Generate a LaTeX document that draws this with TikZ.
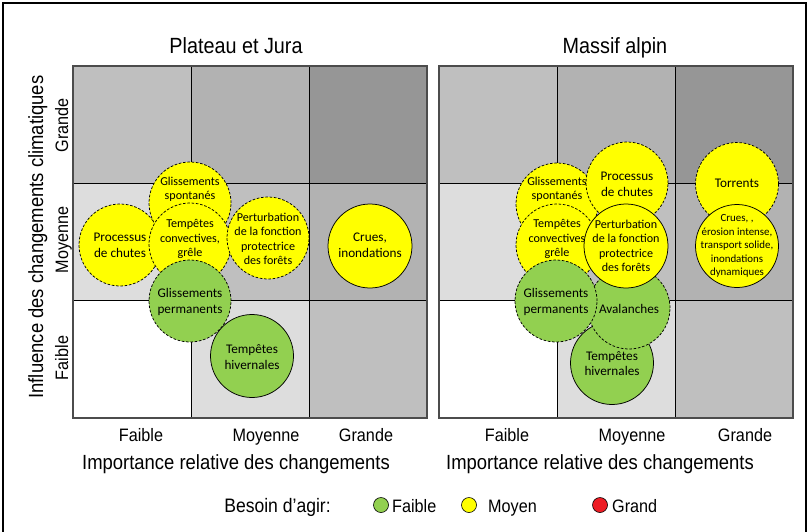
\documentclass[tikz,border=0pt]{standalone}
\usepackage{fontspec}
\setmainfont[FakeStretch=0.9]{Liberation Sans}
\newfontfamily\calib{Carlito}
\definecolor{bgrn}{HTML}{92D050}
\definecolor{byel}{HTML}{FFFF00}
\definecolor{bred}{HTML}{ED1C24}
\definecolor{g0}{HTML}{FFFFFF}
\definecolor{g1}{HTML}{DDDDDD}
\definecolor{g2}{HTML}{BFBFBF}
\definecolor{g3}{HTML}{B2B2B2}
\definecolor{g4}{HTML}{969696}
\begin{document}
\begin{tikzpicture}[x=1pt,y=-1pt,
  bub/.style={circle, draw=black, line width=0.75pt, minimum size=82pt, inner sep=0pt},
  dsh/.style={dash pattern=on 2.6pt off 1.7pt},
  yel/.style={fill=byel},
  grn/.style={fill=bgrn},
  txt/.style={align=center, inner sep=0pt, text=black, font=\calib\fontsize{13.2}{15.8}\selectfont},
  txs/.style={txt, font=\calib\fontsize{12.1}{14.5}\selectfont},
  txxs/.style={txt, font=\calib\fontsize{10.9}{13.5}\selectfont},
  ttl/.style={font=\fontsize{22}{26}\selectfont, anchor=base, inner sep=0pt},
  axl/.style={font=\fontsize{20.5}{24}\selectfont, anchor=base, inner sep=0pt},
  tick/.style={font=\fontsize{18}{22}\selectfont, anchor=base, inner sep=0pt},
  leg/.style={circle, draw=black, line width=0.6pt, minimum size=15pt, inner sep=0pt}
]
\useasboundingbox (0,0) rectangle (810,531);
\fill[white] (0,0) rectangle (810,531);
\draw[line width=1.6pt] (3,540) -- (3,3) -- (806,3) -- (806,540);

% grids
\foreach \X in {73,439}{
  \foreach \i in {0,1,2}{
    \foreach \j in {0,1,2}{
      \pgfmathtruncatemacro\k{\i+\j}
      \fill[g\k] (\X+118*\i, 418-117.33*\j) rectangle (\X+118*\i+118, 418-117.33*\j-117.33);
    }
  }
  \draw[black, line width=0.8pt] (\X+118,66) -- (\X+118,418) (\X+236,66) -- (\X+236,418)
     (\X,300.67) -- (\X+354,300.67) (\X,183.33) -- (\X+354,183.33);
  \draw[black!70, line width=1.3pt] (\X,66) rectangle (\X+354,418);
}

% titles
\node[ttl] (t1) at (236,53) {Plateau et Jura};
\node[ttl] (t2) at (615,53) {Massif alpin};

% y axis
\node[axl, rotate=90] (ylab) at (43,237) {Influence des changements climatiques};
\node[tick, rotate=90] (yf) at (68,358) {Faible};
\node[tick, rotate=90] (ym) at (68,240) {Moyenne};
\node[tick, rotate=90] (yg) at (68,125) {Grande};

% x axes
\node[tick] (lxf) at (141,441) {Faible};
\node[tick] (lxm) at (266,441) {Moyenne};
\node[tick] (lxg) at (366,441) {Grande};
\node[axl] (lxl) at (236,469) {Importance relative des changements};
\node[tick] (rxf) at (507,441) {Faible};
\node[tick] (rxm) at (632,441) {Moyenne};
\node[tick] (rxg) at (745,441) {Grande};
\node[axl] (rxl) at (600,469) {Importance relative des changements};

% left chart bubbles
\node[bub,dsh,yel] (lpc) at (120,245) {};
\node[txt] (lpct) at (120,245.5) {Processus\\de chutes};
\node[bub,dsh,yel] (lgs) at (190,203) {};
\node[txs] (lgst) at (190,189.5) {Glissements\\spontanés};
\node[bub,dsh,yel] (ltc) at (190,244) {};
\node[txs] (ltct) at (190,239) {Tempêtes\\convectives,\\grêle};
\node[bub,dsh,yel] (lpf) at (268,238) {};
\node[txs] (lpft) at (268,239) {Perturbation\\de la fonction\\protectrice\\des forêts};
\node[bub,yel,minimum size=84pt] (lcr) at (370,246) {};
\node[txt] (lcrt) at (370,245.5) {Crues,\\inondations};
\node[bub,dsh,grn] (lgp) at (190,301) {};
\node[txt] (lgpt) at (190,302) {Glissements\\permanents};
\node[bub,grn,minimum size=83pt] (lth) at (252,356) {};
\node[txt] (ltht) at (252,356.7) {Tempêtes\\hivernales};

% right chart bubbles
\node[bub,dsh,yel] (rgs) at (557,204) {};
\node[txs] (rgst) at (557,189.5) {Glissements\\spontanés};
\node[bub,dsh,yel] (rtc) at (557,245) {};
\node[txs] (rtct) at (557,239) {Tempêtes\\convectives\\grêle};
\node[bub,dsh,yel] (rpc) at (627,183) {};
\node[txt] (rpct) at (627,184) {Processus\\de chutes};
\node[bub,dsh,yel,minimum size=83pt] (rto) at (737,184) {};
\node[txt] (rtot) at (737,183) {Torrents};
\node[bub,grn,minimum size=83pt] (rth) at (612,363) {};
\node[txt] (rtht) at (612,363.5) {Tempêtes\\hivernales};
\node[bub,dsh,grn] (rav) at (629,308) {};
\node[txt] (ravt) at (629,309) {Avalanches};
\node[bub,dsh,grn] (rgp) at (556,301) {};
\node[txt] (rgpt) at (556,302) {Glissements\\permanents};
\node[bub,yel,minimum size=84pt] (rpf) at (626,246) {};
\node[txs] (rpft) at (626,245.7) {Perturbation\\de la fonction\\protectrice\\des forêts};
\node[bub,yel,minimum size=83pt] (rcr) at (737,246) {};
\node[txxs] (rcrt) at (737,246) {Crues, ,\\érosion intense,\\transport solide,\\inondations\\dynamiques};

% legend
\node[axl, font=\fontsize{19.5}{23}\selectfont] (lgt) at (277.5,512) {Besoin d’agir:};
\node[leg, fill=bgrn] (lg1) at (381,505) {};
\node[tick, anchor=base west] (lg1t) at (392,512) {Faible};
\node[leg, fill=byel] (lg2) at (469,505) {};
\node[tick, anchor=base west] (lg2t) at (488,512) {Moyen};
\node[leg, fill=bred] (lg3) at (600,505) {};
\node[tick, anchor=base west] (lg3t) at (612,512) {Grand};
\end{tikzpicture}
\end{document}
